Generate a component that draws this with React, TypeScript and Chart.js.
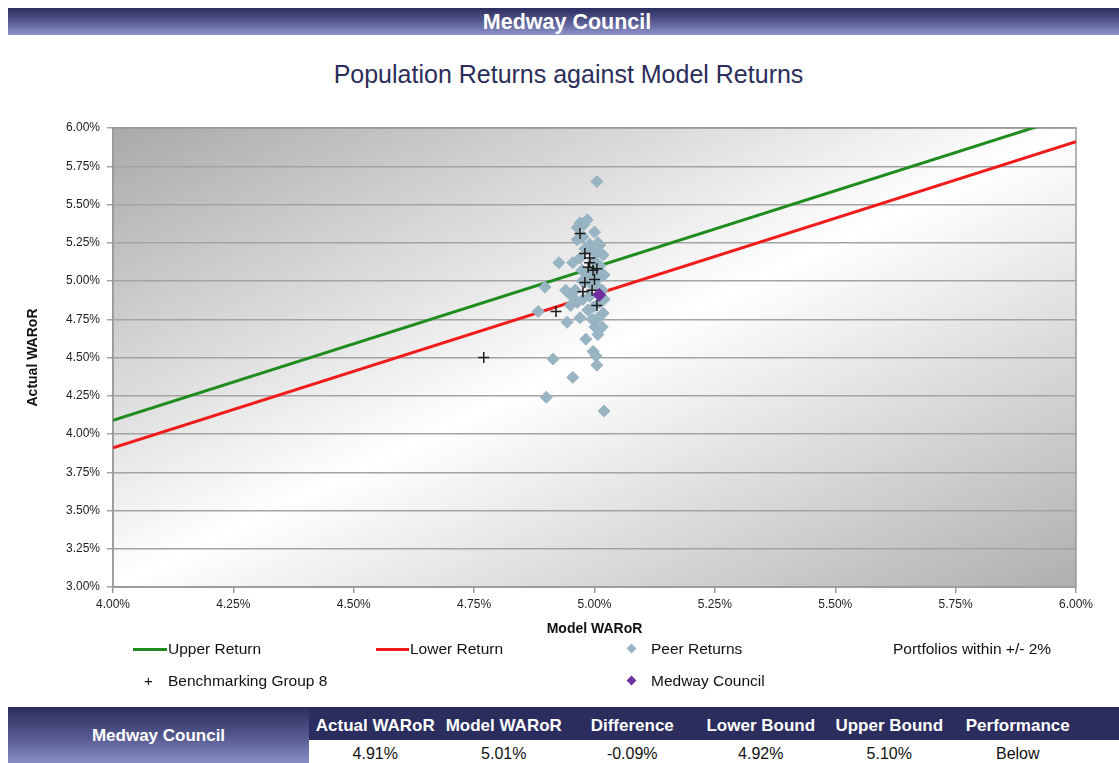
import React, { useEffect, useRef } from "react";
import { Chart, registerables } from "chart.js";

Chart.register(...registerables);

// ---------- Data ----------
const lineX = [4.0, 6.0];
const upperReturnY = [4.09, 6.09];
const lowerReturnY = [3.91, 5.91];

const peerX = [
  5.005, 4.97, 4.985, 4.964, 4.978, 4.964, 4.976, 5.007, 4.99, 5.011,
  4.955, 4.926, 5.005, 5.018, 4.99, 5.005, 5.011, 5.02, 4.897, 4.94,
  4.953, 4.964, 4.986, 5.011, 4.883, 5.02, 4.943, 4.982, 4.997, 5.005,
  5.001, 5.007, 5.016, 4.9, 5.02, 4.955, 4.914, 5.003, 4.97, 4.995,
  4.96, 4.976, 5.016, 4.986, 4.97, 5.0, 4.974, 5.007, 5.018, 4.95,
  4.995, 5.0, 4.985, 4.992, 5.003, 4.98, 4.99, 5.008, 4.975, 4.998,
];
const peerY = [
  5.65, 5.38, 5.4, 5.35, 5.37, 5.27, 5.29, 5.25, 5.24, 5.235,
  5.12, 5.12, 5.18, 5.17, 5.05, 5.01, 5.1, 5.04, 4.96, 4.94,
  4.9, 4.86, 4.81, 4.86, 4.8, 4.88, 4.73, 4.62, 4.54, 4.45,
  4.7, 4.65, 4.7, 4.24, 4.15, 4.37, 4.49, 4.51, 4.76, 4.75,
  4.94, 4.88, 4.94, 5.22, 5.15, 5.32, 5.07, 4.76, 4.79, 4.84,
  5.2, 5.13, 5.03, 4.98, 4.97, 5.21, 4.9, 5.06, 5.0, 4.83,
];

const benchX = [4.77, 4.92, 4.97, 4.98, 4.99, 4.987, 4.997, 5.005, 4.98, 4.976, 4.995, 5.005, 4.99, 5.0];
const benchY = [4.5, 4.8, 5.31, 5.18, 5.15, 5.09, 5.07, 5.08, 4.99, 4.93, 4.94, 4.84, 5.12, 5.01];

const medwayX = [5.01];
const medwayY = [4.91];

const tableHeaders = ["Actual WARoR", "Model WARoR", "Difference", "Lower Bound", "Upper Bound", "Performance"];
const tableValues = ["4.91%", "5.01%", "-0.09%", "4.92%", "5.10%", "Below"];

const FONT = "'Liberation Sans', Arial, Helvetica, sans-serif";

const toPoints = (xs: number[], ys: number[]) => xs.map((x, i) => ({ x, y: ys[i] }));

const bgPlugin = {
  id: "plotBg",
  beforeDraw(chart: any) {
    const { ctx, chartArea } = chart;
    if (!chartArea) return;
    const { left, top, right, bottom } = chartArea;
    const w = right - left;
    const h = bottom - top;
    ctx.save();
    ctx.translate(left, top);
    ctx.scale(w, h);
    const g = ctx.createLinearGradient(0, 0, 1, 1);
    g.addColorStop(0, "#a9a9a9");
    g.addColorStop(0.5, "#ffffff");
    g.addColorStop(1, "#afafaf");
    ctx.fillStyle = g;
    ctx.fillRect(0, 0, 1, 1);
    ctx.restore();
  },
  beforeDatasetsDraw(chart: any) {
    const { ctx, chartArea } = chart;
    const { left, top, right, bottom } = chartArea;
    ctx.save();
    ctx.strokeStyle = "#9a9a9a";
    ctx.lineWidth = 1.5;
    ctx.strokeRect(left, top, right - left, bottom - top);
    ctx.restore();
  },
};

function ScatterChart() {
  const ref = useRef<HTMLCanvasElement | null>(null);
  useEffect(() => {
    if (!ref.current) return;
    const chart = new Chart(ref.current, {
      type: "scatter",
      data: {
        datasets: [
          {
            label: "Upper Return",
            data: toPoints(lineX, upperReturnY),
            showLine: true,
            borderColor: "#1e8c1e",
            borderWidth: 3,
            pointRadius: 0,
            order: 4,
          },
          {
            label: "Lower Return",
            data: toPoints(lineX, lowerReturnY),
            showLine: true,
            borderColor: "#f01c1c",
            borderWidth: 3,
            pointRadius: 0,
            order: 4,
          },
          {
            label: "Peer Returns",
            data: toPoints(peerX, peerY),
            pointStyle: "rectRot",
            pointRadius: 6,
            backgroundColor: "#98b3c2",
            borderColor: "#98b3c2",
            borderWidth: 1,
            order: 3,
          },
          {
            label: "Benchmarking Group 8",
            data: toPoints(benchX, benchY),
            pointStyle: "cross",
            pointRadius: 5.5,
            borderColor: "#1a1a1a",
            borderWidth: 1.5,
            order: 1,
          },
          {
            label: "Medway Council",
            data: toPoints(medwayX, medwayY),
            pointStyle: "rectRot",
            pointRadius: 6.5,
            backgroundColor: "#7030a0",
            borderColor: "#7030a0",
            borderWidth: 1,
            order: 0,
          },
        ],
      },
      options: {
        animation: false,
        responsive: false,
        devicePixelRatio: 1,
        layout: { padding: { left: 20, right: 43, top: 128, bottom: 58 } },
        plugins: {
          legend: { display: false },
          tooltip: { enabled: false },
          title: { display: false },
        },
        scales: {
          x: {
            type: "linear",
            min: 4,
            max: 6,
            afterFit: (s: any) => {
              s.height = 55;
            },
            ticks: {
              stepSize: 0.25,
              padding: 4,
              color: "#222",
              font: { family: FONT, size: 12 },
              callback: (v: any) => Number(v).toFixed(2) + "%",
            },
            grid: {
              drawOnChartArea: false,
              drawTicks: true,
              tickLength: 6,
              color: "#9a9a9a",
              lineWidth: 1.5,
            },
            border: { display: true, color: "#9a9a9a", width: 1.5 },
            title: {
              display: true,
              text: "Model WARoR",
              color: "#111",
              font: { family: FONT, size: 14, weight: "bold" },
              padding: { top: 0, bottom: 4 },
            },
          },
          y: {
            type: "linear",
            min: 3,
            max: 6,
            afterFit: (s: any) => {
              s.width = 93;
            },
            ticks: {
              stepSize: 0.25,
              padding: 7,
              color: "#222",
              font: { family: FONT, size: 12 },
              callback: (v: any) => Number(v).toFixed(2) + "%",
            },
            grid: {
              drawOnChartArea: true,
              drawTicks: true,
              tickLength: 6,
              color: "#a3a3a3",
              lineWidth: 1.5,
            },
            border: { display: true, color: "#9a9a9a", width: 1.5 },
            title: {
              display: true,
              text: "Actual WARoR",
              color: "#111",
              font: { family: FONT, size: 14, weight: "bold" },
              padding: { top: 5, bottom: 0 },
            },
          },
        },
      },
      plugins: [bgPlugin],
    });
    return () => chart.destroy();
  }, []);
  return (
    <canvas
      ref={ref}
      width={1119}
      height={700}
      style={{ position: "absolute", left: 0, top: 0, width: 1119, height: 700 }}
    />
  );
}

const navyGrad = "linear-gradient(to bottom, #2a2d5d 0%, #55598f 50%, #9096cc 100%)";

export default function App() {
  const legendText: React.CSSProperties = {
    position: "absolute",
    fontFamily: FONT,
    fontSize: 15.5,
    color: "#111",
    lineHeight: "18px",
    whiteSpace: "nowrap",
  };
  const colLeft = 311;
  const colW = 128.5;
  return (
    <div
      style={{
        position: "absolute",
        left: 0,
        top: 0,
        width: 1119,
        height: 763,
        overflow: "hidden",
        background: "#fff",
        fontFamily: FONT,
      }}
    >
      {/* Header bar */}
      <div
        style={{
          position: "absolute",
          left: 8,
          top: 8,
          width: 1111,
          height: 27,
          background: navyGrad,
          color: "#fff",
          fontWeight: "bold",
          fontSize: 21.5,
          lineHeight: "29px",
        }}
      >
        <span style={{ position: "absolute", left: 559, transform: "translateX(-50%)", top: 0, whiteSpace: "nowrap" }}>
          Medway Council
        </span>
      </div>

      {/* Title */}
      <div
        style={{
          position: "absolute",
          left: 0,
          top: 60,
          width: 1137,
          textAlign: "center",
          fontSize: 25,
          color: "#2b2d5a",
          lineHeight: "28px",
        }}
      >
        Population Returns against Model Returns
      </div>

      <ScatterChart />

      {/* Legend */}
      <div style={{ position: "absolute", left: 133, top: 648, width: 34, height: 3, background: "#1e8c1e" }} />
      <div style={{ ...legendText, left: 168, top: 640 }}>Upper Return</div>
      <div style={{ position: "absolute", left: 376, top: 648, width: 33, height: 3, background: "#f01c1c" }} />
      <div style={{ ...legendText, left: 410, top: 640 }}>Lower Return</div>
      <div
        style={{
          position: "absolute",
          left: 628,
          top: 645,
          width: 7,
          height: 7,
          background: "#98b3c2",
          transform: "rotate(45deg)",
        }}
      />
      <div style={{ ...legendText, left: 651, top: 640 }}>Peer Returns</div>
      <div style={{ ...legendText, left: 893, top: 640 }}>Portfolios within +/- 2%</div>

      <div style={{ ...legendText, left: 144, top: 672, fontSize: 15 }}>+</div>
      <div style={{ ...legendText, left: 168, top: 672 }}>Benchmarking Group 8</div>
      <div
        style={{
          position: "absolute",
          left: 628,
          top: 677,
          width: 7,
          height: 7,
          background: "#7030a0",
          transform: "rotate(45deg)",
        }}
      />
      <div style={{ ...legendText, left: 651, top: 672 }}>Medway Council</div>

      {/* Table */}
      <div
        style={{
          position: "absolute",
          left: 8,
          top: 707,
          width: 301,
          height: 60,
          background: navyGrad,
          color: "#fff",
          fontWeight: "bold",
          fontSize: 17,
          lineHeight: "58px",
          textAlign: "center",
        }}
      >
        Medway Council
      </div>
      <div
        style={{
          position: "absolute",
          left: 309,
          top: 707,
          width: 810,
          height: 33,
          background: "#2a2d5e",
        }}
      />
      {tableHeaders.map((h, i) => (
        <div
          key={h}
          style={{
            position: "absolute",
            left: colLeft + i * colW,
            top: 707,
            width: colW,
            height: 33,
            lineHeight: "37px",
            textAlign: "center",
            color: "#fff",
            fontWeight: "bold",
            fontSize: 17,
            whiteSpace: "nowrap",
          }}
        >
          {h}
        </div>
      ))}
      {tableValues.map((v, i) => (
        <div
          key={"v" + i}
          style={{
            position: "absolute",
            left: colLeft + i * colW,
            top: 741,
            width: colW,
            height: 24,
            lineHeight: "25px",
            textAlign: "center",
            color: "#111",
            fontSize: 16,
            whiteSpace: "nowrap",
          }}
        >
          {v}
        </div>
      ))}
    </div>
  );
}
